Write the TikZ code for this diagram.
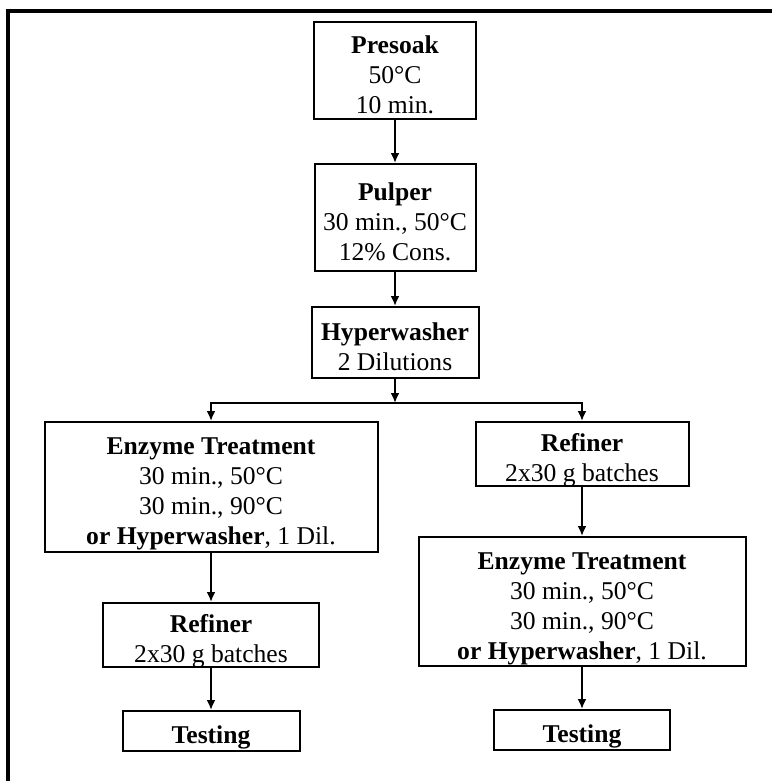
\documentclass[tikz,border=0pt]{standalone}
\usepackage{fontspec}
\setmainfont{Liberation Serif}
\usetikzlibrary{arrows.meta}

\newcommand{\stagetext}[1]{\begin{tabular}{@{}c@{}}#1\end{tabular}}

\tikzset{
  stage/.style={draw, line width=1pt, inner sep=0pt, text height=12.9pt, text depth=0pt,
    font=\fontsize{12.8}{15}\selectfont},
  flow/.style={line width=1pt, -{Latex[length=5pt,width=4.5pt]}},
}

\begin{document}
\begin{tikzpicture}[x=0.5pt, y=-0.5pt]
  \useasboundingbox (0,0) rectangle (772,781);
  % frame, top and left side only
  \draw[line width=1.8pt] (772,11) -- (8,11) -- (8,781);

  % main line
  \node[stage, minimum width=81pt, minimum height=48.5pt] (presoak) at (395,70.5)
    {\stagetext{\textbf{Presoak}\\50°C\\10 min.}};
  \node[stage, minimum width=80.5pt, minimum height=53.5pt] (pulper) at (395,217.5)
    {\stagetext{\textbf{Pulper}\\30 min., 50°C\\12\% Cons.}};
  \node[stage, minimum width=83.5pt, minimum height=35.5pt] (hyper) at (395,342.5)
    {\stagetext{\textbf{Hyperwasher}\\2 Dilutions}};
  \coordinate (split) at (395,403);

  % left branch
  \node[stage, minimum width=166.5pt, minimum height=65pt] (enzL) at (211,487)
    {\stagetext{\textbf{Enzyme Treatment}\\30 min., 50°C\\30 min., 90°C\\\textbf{or Hyperwasher}, 1 Dil.}};
  \node[stage, minimum width=108pt, minimum height=32pt] (refL) at (211,635)
    {\stagetext{\textbf{Refiner}\\2x30 g batches}};
  \node[stage, minimum width=88.5pt, minimum height=20pt] (testL) at (211,731)
    {\stagetext{\textbf{Testing}}};

  % right branch
  \node[stage, minimum width=106.5pt, minimum height=32pt] (refR) at (582,454)
    {\stagetext{\textbf{Refiner}\\2x30 g batches}};
  \node[stage, minimum width=163.5pt, minimum height=64.5pt] (enzR) at (582,601.5)
    {\stagetext{\textbf{Enzyme Treatment}\\30 min., 50°C\\30 min., 90°C\\\textbf{or Hyperwasher}, 1 Dil.}};
  \node[stage, minimum width=88pt, minimum height=20pt] (testR) at (582,730)
    {\stagetext{\textbf{Testing}}};

  % arrows
  \draw[flow] (presoak) -- (pulper);
  \draw[flow] (pulper) -- (hyper);
  \draw[flow] (hyper) -- (split);
  \draw[flow] (split) -| (enzL.north);
  \draw[flow] (split) -| (refR.north);
  \draw[flow] (enzL) -- (refL);
  \draw[flow] (refL) -- (testL);
  \draw[flow] (refR) -- (enzR);
  \draw[flow] (enzR) -- (testR);
\end{tikzpicture}
\end{document}
